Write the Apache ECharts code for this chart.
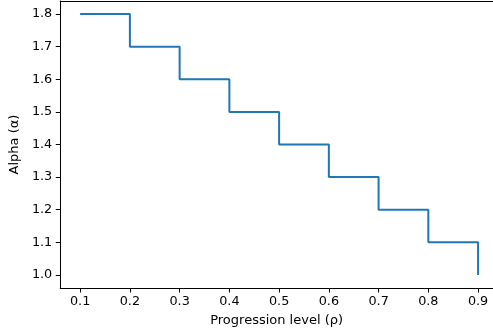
<!DOCTYPE html>
<html><head><meta charset="utf-8">
<script src="https://cdn.jsdelivr.net/npm/echarts@6/dist/echarts.min.js"></script>
<style>html,body{margin:0;padding:0;background:#fff}#c{width:493px;height:335px}</style>
</head><body><div id="c"></div>
<script>
const xValues = [0.1, 0.2, 0.3, 0.4, 0.5, 0.6, 0.7, 0.8, 0.9];
const alphaValues = [1.8, 1.7, 1.6, 1.5, 1.4, 1.3, 1.2, 1.1, 1.0];
const xTicks = [0.1, 0.2, 0.3, 0.4, 0.5, 0.6, 0.7, 0.8, 0.9];
const yTicks = [1.0, 1.1, 1.2, 1.3, 1.4, 1.5, 1.6, 1.7, 1.8];

const font = 'DejaVu Sans';
const chart = echarts.init(document.getElementById('c'));
const axisCommon = {
  axisLine: {show: true, onZero: false, lineStyle: {color: '#000', width: 1}},
  axisTick: {show: true, length: 4.5, lineStyle: {color: '#000', width: 1}},
  splitLine: {show: false},
  nameTextStyle: {fontFamily: font, fontSize: 13, color: '#000'}
};
chart.setOption({
  animation: false,
  grid: {left: 58, right: 0, top: 1, bottom: 47, containLabel: false},
  xAxis: [Object.assign({}, axisCommon, {
    type: 'value', min: 0.06, max: 0.93,
    name: 'Progression level (ρ)', nameLocation: 'middle', nameGap: 26,
    axisTick: Object.assign({}, axisCommon.axisTick, {customValues: xTicks}),
    axisLabel: {customValues: xTicks, margin: 7, fontFamily: font, fontSize: 12.8, color: '#000',
      formatter: v => v.toFixed(1)}
  }), {
    type: 'value', position: 'top', min: 0.06, max: 0.93,
    axisLine: {show: true, lineStyle: {color: '#000', width: 1}},
    axisTick: {show: false}, axisLabel: {show: false}, splitLine: {show: false}
  }],
  yAxis: Object.assign({}, axisCommon, {
    type: 'value', min: 0.96, max: 1.84,
    name: 'Alpha (α)', nameLocation: 'middle', nameGap: 31,
    axisTick: Object.assign({}, axisCommon.axisTick, {customValues: yTicks}),
    axisLabel: {customValues: yTicks, margin: 8, fontFamily: font, fontSize: 12.8, color: '#000',
      formatter: v => v.toFixed(1)}
  }),
  series: [{
    type: 'line', step: 'end', symbol: 'none', xAxisIndex: 0,
    data: xValues.map((x, i) => [x, alphaValues[i]]),
    lineStyle: {color: '#1f77b4', width: 2}
  }]
});
</script></body></html>
